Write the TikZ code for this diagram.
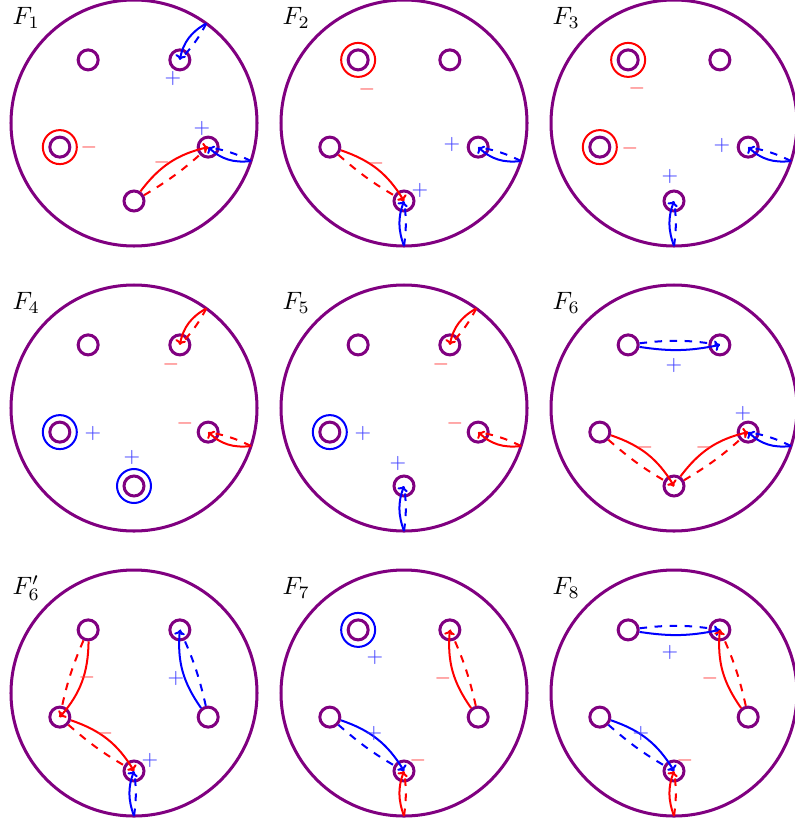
\documentclass[tikz,border=0pt]{standalone}
\usetikzlibrary{arrows.meta}
\definecolor{plum}{RGB}{128,0,128}
\tikzset{
    rim/.style={draw=plum, very thick},
    hole/.style={circle, draw=plum, very thick, minimum size=2.8mm, inner sep=0pt},
    ring/.style={draw=#1, thick},
    fwd/.style={draw=#1, thick, -{To[scale=0.6]}},
    bwd/.style={draw=#1, thick, dashed},
    sgn/.style={text=#1!75, font=\footnotesize, inner sep=0pt},
    lbl/.style={anchor=west, inner sep=0pt},
  }
% one disk with its five holes and the rim points
\newcommand\disk[1]{%
    \draw[rim] (0,0) circle (1.23);
    \node[lbl] (lab) at (-1.22,1.05) {$F_{#1}$};
    \node[hole] (p1) at (126:0.78) {};
    \node[hole] (p2) at (54:0.78) {};
    \node[hole] (p3) at (198:0.78) {};
    \node[hole] (p4) at (-18:0.78) {};
    \node[hole] (p5) at (-90:0.78) {};
    \coordinate (b2) at (54:1.23);
    \coordinate (b4) at (-18:1.23);
    \coordinate (b5) at (-90:1.23);
}

\begin{document}
\begin{tikzpicture}[x=1.4cm, y=1.4cm]
    \useasboundingbox (0,0) rectangle (7.95,-8.25);

    %% F_1
    \begin{scope}[shift={(1.34,-1.23)}, name prefix=a-]
      \disk{1}
      \draw[ring=red] (p3) circle (0.17);
      \node[sgn=red] (s1) at (-0.45,-0.24) {$-$};
      \draw[fwd=blue] (b2) to[bend right=25] (p2);
      \draw[bwd=blue] (b2) to[bend left=8] (p2);
      \node[sgn=blue] (s2) at (0.39,0.45) {$+$};
      \draw[fwd=blue] (b4) to[bend left=25] (p4);
      \draw[bwd=blue] (b4) to[bend right=8] (p4);
      \node[sgn=blue] (s3) at (0.68,-0.05) {$+$};
      \draw[fwd=red] (p5) to[bend left=20] (p4);
      \draw[bwd=red] (p5) to[bend right=6] (p4);
      \node[sgn=red] (s4) at (0.28,-0.39) {$-$};
    \end{scope}

    %% F_2
    \begin{scope}[shift={(4.04,-1.23)}, name prefix=b-]
      \disk{2}
      \draw[ring=red] (p1) circle (0.17);
      \node[sgn=red] (s1) at (-0.37,0.34) {$-$};
      \draw[fwd=red] (p3) to[bend left=20] (p5);
      \draw[bwd=red] (p3) to[bend right=6] (p5);
      \node[sgn=red] (s2) at (-0.28,-0.40) {$-$};
      \draw[fwd=blue] (b4) to[bend left=25] (p4);
      \draw[bwd=blue] (b4) to[bend right=8] (p4);
      \node[sgn=blue] (s3) at (0.48,-0.21) {$+$};
      \draw[fwd=blue] (b5) to[bend left=20] (p5);
      \draw[bwd=blue] (b5) to[bend right=8] (p5);
      \node[sgn=blue] (s4) at (0.16,-0.67) {$+$};
    \end{scope}

    %% F_3
    \begin{scope}[shift={(6.74,-1.23)}, name prefix=c-]
      \disk{3}
      \draw[ring=red] (p1) circle (0.17);
      \node[sgn=red] (s1) at (-0.37,0.35) {$-$};
      \draw[ring=red] (p3) circle (0.17);
      \node[sgn=red] (s2) at (-0.44,-0.25) {$-$};
      \draw[fwd=blue] (b4) to[bend left=25] (p4);
      \draw[bwd=blue] (b4) to[bend right=8] (p4);
      \node[sgn=blue] (s3) at (0.48,-0.22) {$+$};
      \draw[fwd=blue] (b5) to[bend left=20] (p5);
      \draw[bwd=blue] (b5) to[bend right=8] (p5);
      \node[sgn=blue] (s4) at (-0.04,-0.53) {$+$};
    \end{scope}

    %% F_4
    \begin{scope}[shift={(1.34,-4.08)}, name prefix=d-]
      \disk{4}
      \draw[fwd=red] (b2) to[bend right=25] (p2);
      \draw[bwd=red] (b2) to[bend left=8] (p2);
      \node[sgn=red] (s1) at (0.37,0.44) {$-$};
      \draw[fwd=red] (b4) to[bend left=25] (p4);
      \draw[bwd=red] (b4) to[bend right=8] (p4);
      \node[sgn=red] (s2) at (0.51,-0.15) {$-$};
      \draw[ring=blue] (p3) circle (0.17);
      \node[sgn=blue] (s3) at (-0.41,-0.25) {$+$};
      \draw[ring=blue] (p5) circle (0.17);
      \node[sgn=blue] (s4) at (-0.02,-0.49) {$+$};
    \end{scope}

    %% F_5
    \begin{scope}[shift={(4.04,-4.08)}, name prefix=e-]
      \disk{5}
      \draw[fwd=red] (b2) to[bend right=25] (p2);
      \draw[bwd=red] (b2) to[bend left=8] (p2);
      \node[sgn=red] (s1) at (0.37,0.44) {$-$};
      \draw[fwd=red] (b4) to[bend left=25] (p4);
      \draw[bwd=red] (b4) to[bend right=8] (p4);
      \node[sgn=red] (s2) at (0.51,-0.15) {$-$};
      \draw[ring=blue] (p3) circle (0.17);
      \node[sgn=blue] (s3) at (-0.41,-0.25) {$+$};
      \draw[fwd=blue] (b5) to[bend left=20] (p5);
      \draw[bwd=blue] (b5) to[bend right=8] (p5);
      \node[sgn=blue] (s4) at (-0.06,-0.55) {$+$};
    \end{scope}

    %% F_6
    \begin{scope}[shift={(6.74,-4.08)}, name prefix=f-]
      \disk{6}
      \draw[fwd=blue] (p1) to[bend right=10] (p2);
      \draw[bwd=blue] (p1) to[bend left=8] (p2);
      \node[sgn=blue] (s1) at (0,0.43) {$+$};
      \draw[fwd=red] (p3) to[bend left=20] (p5);
      \draw[bwd=red] (p3) to[bend right=6] (p5);
      \node[sgn=red] (s2) at (-0.29,-0.39) {$-$};
      \draw[fwd=red] (p5) to[bend left=20] (p4);
      \draw[bwd=red] (p5) to[bend right=6] (p4);
      \node[sgn=red] (s3) at (0.30,-0.39) {$-$};
      \draw[fwd=blue] (b4) to[bend left=25] (p4);
      \draw[bwd=blue] (b4) to[bend right=8] (p4);
      \node[sgn=blue] (s4) at (0.69,-0.05) {$+$};
    \end{scope}

    %% F_6'
    \begin{scope}[shift={(1.34,-6.93)}, name prefix=g-]
      \draw[rim] (0,0) circle (1.23);
      \node[lbl] (lab) at (-1.22,1.05) {$F'_6$};
      \node[hole] (p1) at (126:0.78) {};
      \node[hole] (p2) at (54:0.78) {};
      \node[hole] (p3) at (198:0.78) {};
      \node[hole] (p4) at (-18:0.78) {};
      \node[hole] (p5) at (-90:0.78) {};
      \coordinate (b5) at (-90:1.23);
      \draw[fwd=red] (p1) to[bend left=20] (p3);
      \draw[bwd=red] (p1) to[bend right=6] (p3);
      \node[sgn=red] (s1) at (-0.47,0.16) {$-$};
      \draw[fwd=red] (p3) to[bend left=20] (p5);
      \draw[bwd=red] (p3) to[bend right=6] (p5);
      \node[sgn=red] (s2) at (-0.29,-0.40) {$-$};
      \draw[fwd=blue] (b5) to[bend left=20] (p5);
      \draw[bwd=blue] (b5) to[bend right=8] (p5);
      \node[sgn=blue] (s3) at (0.16,-0.67) {$+$};
      \draw[fwd=blue] (p4) to[bend left=20] (p2);
      \draw[bwd=blue] (p4) to[bend right=6] (p2);
      \node[sgn=blue] (s4) at (0.42,0.15) {$+$};
    \end{scope}

    %% F_7
    \begin{scope}[shift={(4.04,-6.93)}, name prefix=h-]
      \disk{7}
      \draw[ring=blue] (p1) circle (0.17);
      \node[sgn=blue] (s1) at (-0.29,0.36) {$+$};
      \draw[fwd=red] (p4) to[bend left=20] (p2);
      \draw[bwd=red] (p4) to[bend right=6] (p2);
      \node[sgn=red] (s2) at (0.39,0.15) {$-$};
      \draw[fwd=blue] (p3) to[bend left=20] (p5);
      \draw[bwd=blue] (p3) to[bend right=6] (p5);
      \node[sgn=blue] (s3) at (-0.30,-0.40) {$+$};
      \draw[fwd=red] (b5) to[bend left=20] (p5);
      \draw[bwd=red] (b5) to[bend right=8] (p5);
      \node[sgn=red] (s4) at (0.14,-0.67) {$-$};
    \end{scope}

    %% F_8
    \begin{scope}[shift={(6.74,-6.93)}, name prefix=i-]
      \disk{8}
      \draw[fwd=blue] (p1) to[bend right=10] (p2);
      \draw[bwd=blue] (p1) to[bend left=8] (p2);
      \node[sgn=blue] (s1) at (-0.04,0.41) {$+$};
      \draw[fwd=red] (p4) to[bend left=20] (p2);
      \draw[bwd=red] (p4) to[bend right=6] (p2);
      \node[sgn=red] (s2) at (0.36,0.15) {$-$};
      \draw[fwd=blue] (p3) to[bend left=20] (p5);
      \draw[bwd=blue] (p3) to[bend right=6] (p5);
      \node[sgn=blue] (s3) at (-0.33,-0.40) {$+$};
      \draw[fwd=red] (b5) to[bend left=20] (p5);
      \draw[bwd=red] (b5) to[bend right=8] (p5);
      \node[sgn=red] (s4) at (0.11,-0.67) {$-$};
    \end{scope}
  \end{tikzpicture}
\end{document}
